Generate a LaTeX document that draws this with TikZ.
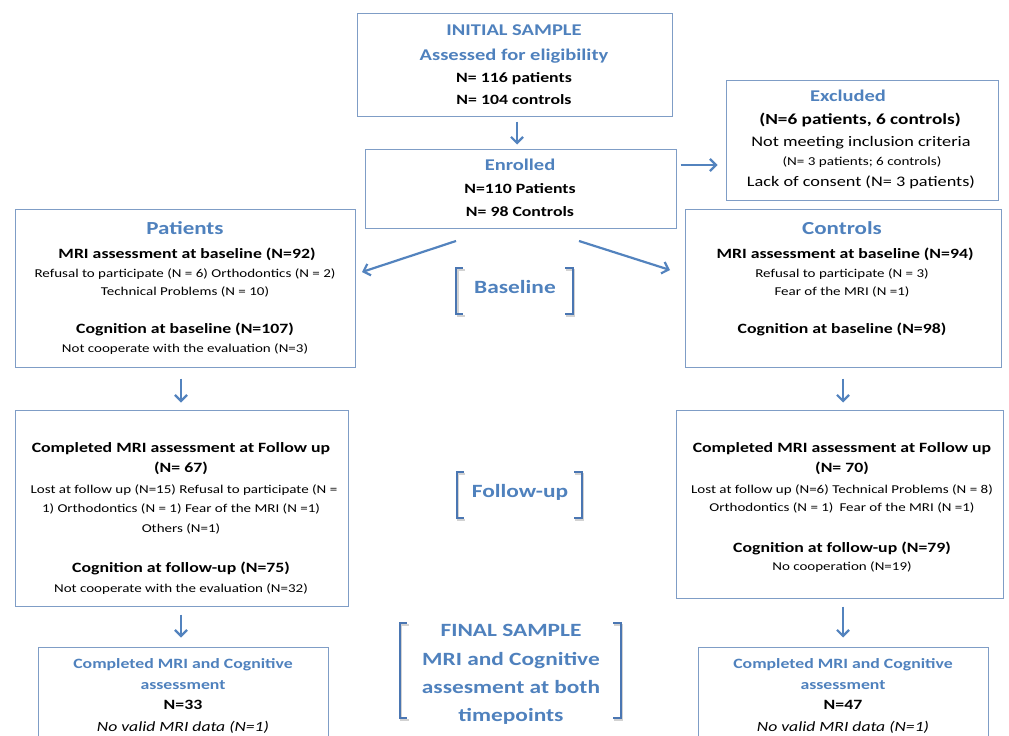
\documentclass[tikz,border=0pt]{standalone}
\usepackage{fontspec}
\setmainfont{Carlito}[FakeStretch=1.25]
\usetikzlibrary{arrows.meta}
\definecolor{hdblue}{HTML}{4F81BD}
\definecolor{boxblue}{HTML}{7F9DC6}
\definecolor{arrblue}{HTML}{5383BE}
\definecolor{brkblue}{HTML}{4A76B2}

\begin{document}
\begin{tikzpicture}[x=1pt,y=-1pt,
    box/.style={draw=boxblue, line width=1pt, inner sep=0pt},
    txt/.style={inner sep=0pt, text height=6pt, text depth=3.5pt, yshift=-4.5pt},
    hdbig/.style={txt, text=hdblue, font=\fontsize{18.4}{20}\selectfont\bfseries},
    hd/.style={txt, text=hdblue, font=\fontsize{16.4}{18}\selectfont\bfseries},
    hdsm/.style={txt, text=hdblue, font=\fontsize{14.2}{16}\selectfont\bfseries},
    bd/.style={txt, font=\fontsize{14.2}{16}\selectfont\bfseries},
    bdl/.style={txt, font=\fontsize{15.4}{17}\selectfont\bfseries},
    md/.style={txt, font=\fontsize{14.6}{16}\selectfont},
    sm/.style={txt, font=\fontsize{12}{13}\selectfont},
    smx/.style={txt, font=\fontsize{12.1}{13}\selectfont},
    itl/.style={txt, font=\fontsize{14.1}{16}\selectfont\itshape},
    lbl/.style={txt, text=hdblue, font=\fontsize{18.7}{20}\selectfont\bfseries},
    arr/.style={draw=arrblue, line width=2.2pt, -{Straight Barb[length=6pt,width=12pt]}},
    brk/.style={draw=brkblue, line width=2.5pt},
    brkshadow/.style={draw=gray!35, line width=2.5pt}]
  \useasboundingbox (0,0) rectangle (1009,736);
  \clip (0,0) rectangle (1009,736);

  % boxes
  \node[box, minimum width=315, minimum height=103] (init) at (514.5,64.5) {};
  \node[box, minimum width=311, minimum height=79] (enr) at (520.5,188.5) {};
  \node[box, minimum width=272, minimum height=120] (excl) at (862,140) {};
  \node[box, minimum width=340, minimum height=158] (pat) at (185,288) {};
  \node[box, minimum width=316, minimum height=158] (con) at (843,288) {};
  \node[box, minimum width=333, minimum height=196] (patfu) at (181.5,508) {};
  \node[box, minimum width=327, minimum height=188] (confu) at (839.5,504) {};
  \node[box, minimum width=290, minimum height=120] (patfin) at (183,707) {};
  \node[box, minimum width=290, minimum height=120] (confin) at (843,707) {};

  % initial sample
  \node[hd] (init1) at (514,30) {INITIAL SAMPLE};
  \node[hd] (init2) at (514,55) {Assessed for eligibility};
  \node[bd] (init3) at (514,77) {N= 116 patients};
  \node[bd] (init4) at (514,99) {N= 104 controls};

  % enrolled
  \node[hd] (enr1) at (520,165) {Enrolled};
  \node[bd] (enr2) at (520,188) {N=110 Patients};
  \node[bd] (enr3) at (520,211) {N= 98 Controls};

  % excluded
  \node[hd] (excl1) at (848,96) {Excluded};
  \node[bdl] (excl2) at (860,119) {(N=6 patients, 6 controls)};
  \node[md] (excl3) at (861,141) {Not meeting inclusion criteria};
  \node[smx] (excl4) at (862,160) {(N= 3 patients; 6 controls)};
  \node[md] (excl5) at (861,181) {Lack of consent (N= 3 patients)};

  % patients, baseline
  \node[hdbig] (pat1) at (185,229) {Patients};
  \node[bd] (pat2) at (187,253) {MRI assessment at baseline (N=92)};
  \node[sm] (pat3) at (185,272) {Refusal to participate (N = 6) Orthodontics (N = 2)};
  \node[sm] (pat4) at (185,290) {Technical Problems (N = 10)};
  \node[bd] (pat5) at (185,328) {Cognition at baseline (N=107)};
  \node[sm] (pat6) at (185,347) {Not cooperate with the evaluation (N=3)};

  % controls, baseline
  \node[hdbig] (con1) at (842,229) {Controls};
  \node[bd] (con2) at (845,253) {MRI assessment at baseline (N=94)};
  \node[sm] (con3) at (842,272) {Refusal to participate (N = 3)};
  \node[sm] (con4) at (842,290) {Fear of the MRI (N =1)};
  \node[bd] (con5) at (842,328) {Cognition at baseline (N=98)};

  % patients, follow-up
  \node[bd] (patfu1) at (181,447) {Completed MRI assessment at Follow up};
  \node[bd] (patfu2) at (181,467) {(N= 67)};
  \node[sm] (patfu3) at (184,488) {Lost at follow up (N=15) Refusal to participate (N =};
  \node[sm] (patfu4) at (181,507) {1) Orthodontics (N = 1) Fear of the MRI (N =1)};
  \node[sm] (patfu5) at (181,527) {Others (N=1)};
  \node[bd] (patfu6) at (181,567) {Cognition at follow-up (N=75)};
  \node[sm] (patfu7) at (181,587) {Not cooperate with the evaluation (N=32)};

  % controls, follow-up
  \node[bd] (confu1) at (842,447) {Completed MRI assessment at Follow up};
  \node[bd] (confu2) at (842,467) {(N= 70)};
  \node[sm] (confu3) at (842,488) {Lost at follow up (N=6) Technical Problems (N = 8)};
  \node[sm] (confu4) at (842,506) {Orthodontics (N = 1)\enspace Fear of the MRI (N =1)};
  \node[bd] (confu5) at (842,547) {Cognition at follow-up (N=79)};
  \node[sm] (confu6) at (842,565) {No cooperation (N=19)};

  % final boxes
  \node[hdsm] (patfin1) at (183,663) {Completed MRI and Cognitive};
  \node[hdsm] (patfin2) at (183,684) {assessment};
  \node[bd] (patfin3) at (183,704) {N=33};
  \node[itl] (patfin4) at (183,726) {No valid MRI data (N=1)};
  \node[hdsm] (confin1) at (843,663) {Completed MRI and Cognitive};
  \node[hdsm] (confin2) at (843,684) {assessment};
  \node[bd] (confin3) at (843,704) {N=47};
  \node[itl] (confin4) at (843,726) {No valid MRI data (N=1)};

  % stage labels
  \node[lbl] (base) at (515,288) {Baseline};
  \node[lbl] (fup) at (520,492) {Follow-up};
  \node[lbl] (fin1) at (511,631) {FINAL SAMPLE};
  \node[lbl] (fin2) at (511,660) {MRI and Cognitive};
  \node[lbl] (fin3) at (511,688) {assesment at both};
  \node[lbl] (fin4) at (511,716) {timepoints};

  % brackets
  \draw[brkshadow] (465,270) -- (458,270) -- (458,316) -- (465,316);
  \draw[brkshadow] (566,270) -- (574,270) -- (574,316) -- (566,316);
  \draw[brk] (463,268) -- (456,268) -- (456,314) -- (463,314);
  \draw[brk] (565,268) -- (573,268) -- (573,314) -- (565,314);
  \draw[brkshadow] (465,474) -- (458,474) -- (458,520) -- (465,520);
  \draw[brkshadow] (575,474) -- (583,474) -- (583,520) -- (575,520);
  \draw[brk] (464,472) -- (457,472) -- (457,518) -- (464,518);
  \draw[brk] (574,472) -- (582,472) -- (582,518) -- (574,518);
  \draw[brkshadow] (409,625) -- (401,625) -- (401,720) -- (409,720);
  \draw[brkshadow] (614,625) -- (622,625) -- (622,720) -- (614,720);
  \draw[brk] (407,623) -- (400,623) -- (400,718) -- (407,718);
  \draw[brk] (613,623) -- (621,623) -- (621,718) -- (613,718);

  % arrows
  \coordinate (enrleft) at (456,241);
  \coordinate (patin) at (362,272);
  \coordinate (enrright) at (579,241);
  \coordinate (conin) at (670,270);
  \draw[arr, shorten <=5pt, shorten >=4pt] ([xshift=2.5pt]init.south) -- ([xshift=-3.5pt]enr.north);
  \draw[arr, shorten <=4pt, shorten >=8pt] ([yshift=23.5pt]enr.east) -- ([yshift=-25pt]excl.west);
  \draw[arr] (enrleft) -- (patin);
  \draw[arr] (enrright) -- (conin);
  \draw[arr, shorten <=11pt, shorten >=7pt] ([xshift=-4pt]pat.south) -- ([xshift=-0.5pt]patfu.north);
  \draw[arr, shorten <=11pt, shorten >=7pt] (con.south) -- ([xshift=3.5pt]confu.north);
  \draw[arr, shorten <=8pt, shorten >=9pt] ([xshift=-0.5pt]patfu.south) -- ([xshift=-2pt]patfin.north);
  \draw[arr, shorten <=8pt, shorten >=9pt] ([xshift=3.5pt]confu.south) -- (confin.north);
\end{tikzpicture}
\end{document}
